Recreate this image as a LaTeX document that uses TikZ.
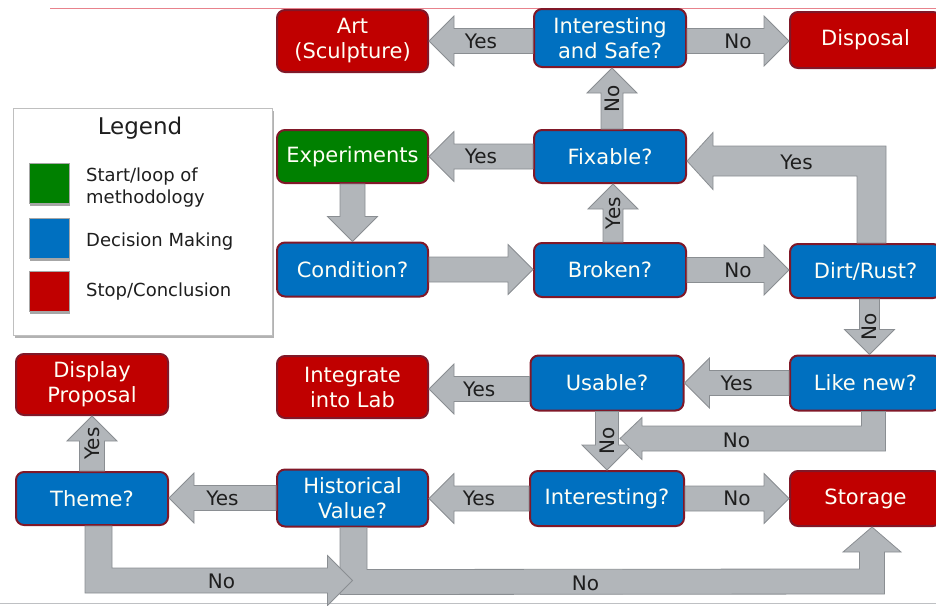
\documentclass[tikz,border=0pt]{standalone}
\usepackage{fontspec}
\setmainfont{DejaVu Sans}
\usetikzlibrary{calc,shadows}

\definecolor{stopred}{RGB}{192,0,0}
\definecolor{decblue}{RGB}{0,112,192}
\definecolor{startgreen}{RGB}{0,128,0}
\definecolor{boxedge}{RGB}{128,24,40}
\definecolor{boxtext}{RGB}{255,255,245}
\definecolor{arrowfill}{RGB}{178,182,186}
\definecolor{arrowedge}{RGB}{138,142,146}
\definecolor{labelink}{RGB}{30,30,30}
\definecolor{legendedge}{RGB}{191,191,191}
\definecolor{topline}{RGB}{232,130,140}
\definecolor{bottomline}{RGB}{190,192,195}

\tikzset{
  flowbox/.style={draw=boxedge, line width=2pt, rounded corners=8pt,
    text=boxtext, align=center, inner sep=0pt,
    font=\fontsize{21}{25}\selectfont},
  stopbox/.style={flowbox, fill=stopred},
  decbox/.style={flowbox, fill=decblue},
  startbox/.style={flowbox, fill=startgreen},
  arrowbody/.style={fill=arrowfill, draw=arrowedge, line width=0.8pt, line join=miter},
  arrowlabel/.style={text=labelink, inner sep=0pt, font=\fontsize{20}{22}\selectfont},
  legendbox/.style={draw=legendedge, fill=white, line width=1pt, inner sep=0pt,
    general shadow={fill=black!30, shadow xshift=2pt, shadow yshift=-3pt}},
  swatch/.style={draw=black!35, line width=0.8pt, minimum width=40pt, minimum height=40pt,
    inner sep=0pt, general shadow={fill=black!35, shadow xshift=1pt, shadow yshift=-2.5pt}},
  legendtext/.style={text=labelink, anchor=west, align=left, inner sep=0pt,
    font=\fontsize{18}{22}\selectfont},
}

% straight block arrow: [shaft half width]{tail}{tip}
\newcommand\blockarrow[3][12.5]{%
  \coordinate (ba-s) at (#2);
  \coordinate (ba-t) at (#3);
  \coordinate (ba-b) at ($(ba-t)!25pt!(ba-s)$);
  \draw[arrowbody] ($(ba-s)!#1pt!90:(ba-t)$) -- ($(ba-b)!#1pt!90:(ba-t)$)
    -- ($(ba-b)!25pt!90:(ba-t)$) -- (ba-t) -- ($(ba-b)!25pt!-90:(ba-t)$)
    -- ($(ba-b)!#1pt!-90:(ba-t)$) -- ($(ba-s)!#1pt!-90:(ba-t)$) -- cycle;
}

\begin{document}
\begin{tikzpicture}[x=1pt,y=-1pt]
\useasboundingbox (0,0) rectangle (936,605);

% frame lines
\draw[topline, line width=1pt] (50,8) -- (936,8);
\draw[bottomline, line width=1.5pt] (0,603.5) -- (936,603.5);

% legend
\node[legendbox, minimum width=259pt, minimum height=227pt] (legend) at (142.5,221.5) {};
\node[text=labelink, inner sep=0pt, font=\fontsize{23}{26}\selectfont] (legendtitle) at (140,128) {Legend};
\node[swatch, fill=startgreen] (swgreen) at (49,183) {};
\node[swatch, fill=decblue] (swblue) at (49,238) {};
\node[swatch, fill=stopred] (swred) at (49,291.5) {};
\node[legendtext] (lgstart) at (86,188) {Start/loop of\\methodology};
\node[legendtext] (lgdec) at (86,242) {Decision Making};
\node[legendtext] (lgstop) at (86,292) {Stop/Conclusion};

% flow boxes
\node[stopbox, minimum width=151pt, minimum height=62pt] (art) at (352.5,41) {Art\\(Sculpture)};
\node[decbox, minimum width=152pt, minimum height=58pt] (safe) at (610,38) {Interesting\\and Safe?};
\node[stopbox, minimum width=151pt, minimum height=56pt] (disposal) at (865.5,40) {Disposal};
\node[startbox, minimum width=151pt, minimum height=53pt] (experiments) at (352.5,156.5) {Experiments};
\node[decbox, minimum width=152pt, minimum height=53pt] (fixable) at (610,156.5) {Fixable?};
\node[decbox, minimum width=151pt, minimum height=54pt] (condition) at (352.5,269.5) {Condition?};
\node[decbox, minimum width=152pt, minimum height=54pt] (broken) at (610,270) {Broken?};
\node[decbox, minimum width=151pt, minimum height=54pt] (dirt) at (865.5,271) {Dirt/Rust?};
\node[decbox, minimum width=151pt, minimum height=55pt] (likenew) at (865.5,383) {Like new?};
\node[decbox, minimum width=153pt, minimum height=55pt] (usable) at (607,383) {Usable?};
\node[stopbox, minimum width=151pt, minimum height=62pt] (integrate) at (352.5,387) {Integrate\\into Lab};
\node[decbox, minimum width=154pt, minimum height=55pt] (interesting) at (607,498.5) {Interesting?};
\node[stopbox, minimum width=151pt, minimum height=55pt] (storage) at (865.5,498.5) {Storage};
\node[decbox, minimum width=151pt, minimum height=57pt] (historical) at (352.5,498) {Historical\\Value?};
\node[decbox, minimum width=152pt, minimum height=53pt] (theme) at (92,498.5) {Theme?};
\node[stopbox, minimum width=152pt, minimum height=61pt] (display) at (92,384.5) {Display\\Proposal};

% straight connectors
\blockarrow{safe.west |- art.east}{art.east}
\blockarrow{safe.east |- art.east}{disposal.west |- art.east}
\blockarrow{fixable.west}{experiments.east}
\blockarrow{experiments.south}{condition.north}
\blockarrow{condition.east}{broken.west |- condition.east}
\blockarrow[10]{$(broken.north)+(3,0)$}{$(fixable.south)+(3,0)$}
\blockarrow[11]{$(fixable.north)+(2,0)$}{$(safe.south)+(2,0)$}
\blockarrow{broken.east}{dirt.west |- broken.east}
\blockarrow[10]{$(dirt.south)+(4,0)$}{$(likenew.north)+(4,0)$}
\blockarrow{likenew.west}{usable.east}
\blockarrow{$(usable.west |- integrate.east)+(0,2)$}{$(integrate.east)+(0,2)$}
\blockarrow[11.5]{usable.south}{interesting.north}
\blockarrow{interesting.east}{storage.west}
\blockarrow{interesting.west}{historical.east |- interesting.west}
\blockarrow{historical.west}{theme.east |- historical.west}
\blockarrow{theme.north}{display.south}

% Dirt/Rust? -> Fixable? (up, then left)
\coordinate (bendA) at ($(dirt.north)+(6,-82)$);
\coordinate (tipA) at (fixable.east |- bendA);
\draw[arrowbody] ($(bendA |- dirt.north)+(-14.5,0)$) -- ($(bendA)+(-14.5,15)$)
  -- ($(tipA)+(26,15)$) -- ($(tipA)+(26,28.5)$) -- (tipA) -- ($(tipA)+(26,-28.5)$)
  -- ($(tipA)+(26,-15)$) -- ($(bendA)+(14.5,-15)$) -- ($(bendA |- dirt.north)+(14.5,0)$) -- cycle;

% Like new? -> Interesting? (down, then left)
\coordinate (bendB) at ($(likenew.south)+(8,27)$);
\coordinate (tipB) at ($(usable.south |- bendB)+(13,0)$);
\draw[arrowbody] ($(bendB |- likenew.south)+(-12,0)$) -- ($(bendB)+(-12,-12.5)$)
  -- ($(tipB)+(22,-12.5)$) -- ($(tipB)+(22,-21)$) -- (tipB) -- ($(tipB)+(22,21)$)
  -- ($(tipB)+(22,12.5)$) -- ($(bendB)+(12,12.5)$) -- ($(bendB |- likenew.south)+(12,0)$) -- cycle;

% Historical Value? -> Storage (down, right, up)
\coordinate (bendD1) at ($(historical.south)+(1,54.5)$);
\coordinate (bendD2) at ($(storage.south)+(6.5,54.5)$);
\coordinate (tipD) at (bendD2 |- storage.south);
\draw[arrowbody] ($(bendD1 |- historical.south)+(-13.5,0)$) -- ($(bendD1)+(-13.5,12.5)$)
  -- ($(bendD2)+(12.5,12.5)$) -- ($(tipD)+(12.5,25)$) -- ($(tipD)+(29,25)$) -- (tipD)
  -- ($(tipD)+(-29,25)$) -- ($(tipD)+(-12.5,25)$) -- ($(bendD2)+(-12.5,-12.5)$)
  -- ($(bendD1)+(13.5,-12.5)$) -- ($(bendD1 |- historical.south)+(13.5,0)$) -- cycle;

% Theme? -> (joins the Historical Value? path)
\coordinate (bendC) at ($(theme.south)+(6.5,54.5)$);
\coordinate (tipC) at (historical.south |- bendC);
\draw[arrowbody] ($(bendC |- theme.south)+(-13.5,0)$) -- ($(bendC)+(-13.5,12.5)$)
  -- ($(tipC)+(-25,12.5)$) -- ($(tipC)+(-25,25)$) -- (tipC) -- ($(tipC)+(-25,-25)$)
  -- ($(tipC)+(-25,-12.5)$) -- ($(bendC)+(13.5,-12.5)$) -- ($(bendC |- theme.south)+(13.5,0)$) -- cycle;

% connector labels
\node[arrowlabel] (l-art) at ($(safe.west |- art.east)!0.5!(art.east)$) {Yes};
\node[arrowlabel] (l-disp) at ($(safe.east |- art.east)!0.5!(disposal.west |- art.east)$) {No};
\node[arrowlabel] (l-exp) at ($(fixable.west)!0.5!(experiments.east)$) {Yes};
\node[arrowlabel, rotate=90] (l-fix) at ($(broken.north)!0.5!(fixable.south)+(3,0)$) {Yes};
\node[arrowlabel, rotate=90] (l-safe) at ($(fixable.north)!0.5!(safe.south)+(2,0)$) {No};
\node[arrowlabel] (l-dirt) at ($(broken.east)!0.5!(dirt.west |- broken.east)$) {No};
\node[arrowlabel] (l-again) at ($(bendA)+(-75,1)$) {Yes};
\node[arrowlabel, rotate=90] (l-like) at ($(dirt.south)!0.5!(likenew.north)+(4,0)$) {No};
\node[arrowlabel] (l-usable) at ($(likenew.west)!0.5!(usable.east)$) {Yes};
\node[arrowlabel] (l-integ) at ($(usable.west |- integrate.east)!0.5!(integrate.east)+(0,2)$) {Yes};
\node[arrowlabel, rotate=90] (l-int) at ($(usable.south)!0.5!(interesting.north)$) {No};
\node[arrowlabel] (l-likeno) at ($(bendB)+(-137,2)$) {No};
\node[arrowlabel] (l-stor) at ($(interesting.east)!0.5!(storage.west)$) {No};
\node[arrowlabel] (l-hist) at ($(interesting.west)!0.5!(historical.east |- interesting.west)$) {Yes};
\node[arrowlabel] (l-theme) at ($(historical.west)!0.5!(theme.east |- historical.west)$) {Yes};
\node[arrowlabel, rotate=90] (l-disp2) at ($(theme.north)!0.5!(display.south)$) {Yes};
\node[arrowlabel] (l-themeno) at ($(bendC)+(123,1)$) {No};
\node[arrowlabel] (l-histno) at ($(bendD1)+(232,1)$) {No};
\end{tikzpicture}
\end{document}
